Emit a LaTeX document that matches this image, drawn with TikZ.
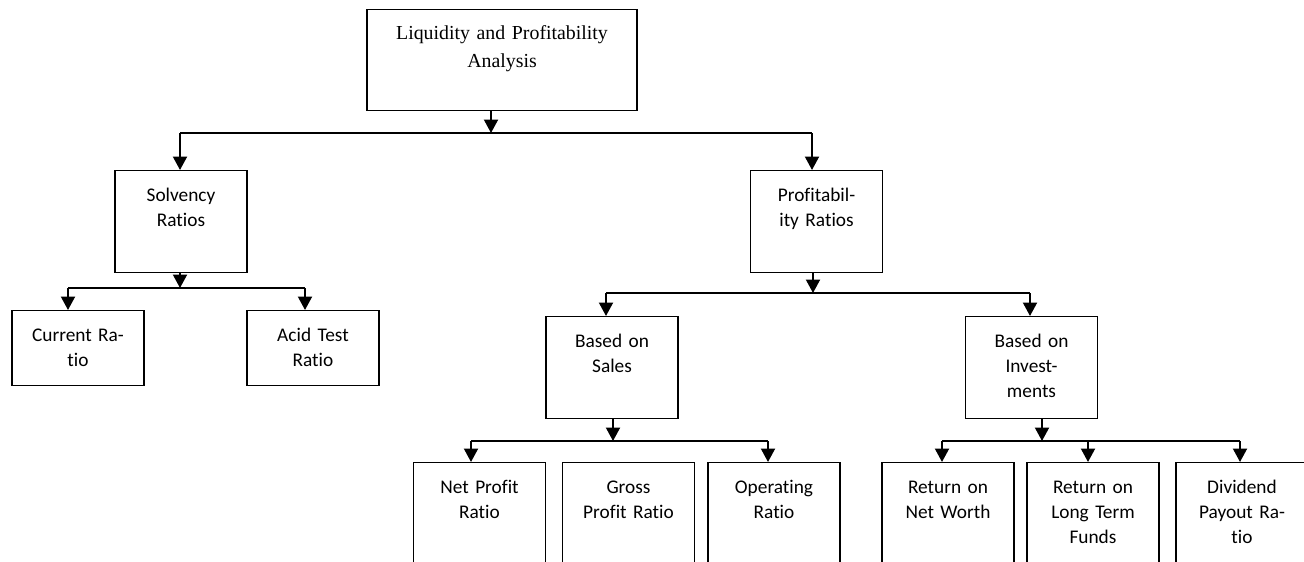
\documentclass[tikz,border=0pt]{standalone}
\usepackage{fontspec}
\setmainfont[RawFeature={-liga}]{Carlito}
\newfontfamily\headfont{Liberation Serif}
\usetikzlibrary{arrows.meta}

\begin{document}
\begin{tikzpicture}[x=0.02cm,y=-0.02cm,
	box/.style={draw,line width=0.7pt,inner sep=0,anchor=north,align=center,
		text width=2.64cm,text height=0.61cm,text depth=1.43cm,
		font=\fontsize{11}{14.2}\selectfont},
	lowbox/.style={box,text depth=0.89cm},
	endbox/.style={box,text depth=2.4cm},
	bus/.style={line width=1.2pt},
	arr/.style={bus,-{Triangle[length=0.27cm,width=0.28cm]}}]
	\clip (0,0) rectangle (1304,561);
	% boxes
	\node[box,text width=5.4cm,text height=0.6cm,text depth=1.42cm,
		font=\headfont\fontsize{11.3}{16}\selectfont] (top) at (502,9) {Liquidity and Profitability\\Analysis};
	\node[box] (solv) at (181,170) {Solvency\\Ratios};
	\node[box] (prof) at (816.5,170) {Profitabil-\\ity Ratios};
	\node[lowbox] (cur) at (78,310) {Current Ra-\\tio};
	\node[lowbox] (acid) at (313,310) {Acid Test\\Ratio};
	\node[box] (sales) at (612,316) {Based on\\Sales};
	\node[box] (inv) at (1031.5,316) {Based on\\Invest-\\ments};
	\node[endbox] (net) at (479.5,462) {Net Profit\\Ratio};
	\node[endbox] (gross) at (628.5,462) {Gross\\Profit Ratio};
	\node[endbox] (oper) at (774,462) {Operating\\Ratio};
	\node[endbox] (rnw) at (948,462) {Return on\\Net Worth};
	\node[endbox] (rltf) at (1093,462) {Return on\\Long Term\\Funds};
	\node[endbox] (div) at (1242,462) {Dividend\\Payout Ra-\\tio};
	% bus points
	\coordinate (b1) at (491,133);
	\coordinate (b1w) at (180,133);
	\coordinate (b1e) at (812,133);
	\coordinate (b2) at (180,288);
	\coordinate (b2w) at (68,288);
	\coordinate (b2e) at (305,288);
	\coordinate (b3) at (813,293);
	\coordinate (b3w) at (606,293);
	\coordinate (b3e) at (1030,293);
	\coordinate (b4) at (613,441);
	\coordinate (b4w) at (471,441);
	\coordinate (b4e) at (768,441);
	\coordinate (b5) at (1042,441);
	\coordinate (b5w) at (942,441);
	\coordinate (b5m) at (1088,441);
	\coordinate (b5e) at (1240,441);
	% first level
	\draw[arr] (top.south -| b1) -- (b1);
	\draw[bus] (b1w) -- (b1e);
	\draw[arr] (b1w) -- (solv.north -| b1w);
	\draw[arr] (b1e) -- (prof.north -| b1e);
	% solvency
	\draw[arr] (solv.south -| b2) -- (b2);
	\draw[bus] (b2w) -- (b2e);
	\draw[arr] (b2w) -- (cur.north -| b2w);
	\draw[arr] (b2e) -- (acid.north -| b2e);
	% profitability
	\draw[arr] (prof.south -| b3) -- (b3);
	\draw[bus] (b3w) -- (b3e);
	\draw[arr] (b3w) -- (sales.north -| b3w);
	\draw[arr] (b3e) -- (inv.north -| b3e);
	% sales
	\draw[arr] (sales.south -| b4) -- (b4);
	\draw[bus] (b4w) -- (b4e);
	\draw[arr] (b4w) -- (net.north -| b4w);
	\draw[arr] (b4e) -- (oper.north -| b4e);
	% investments
	\draw[arr] (inv.south -| b5) -- (b5);
	\draw[bus] (b5w) -- (b5e);
	\draw[arr] (b5w) -- (rnw.north -| b5w);
	\draw[arr] (b5m) -- (rltf.north -| b5m);
	\draw[arr] (b5e) -- (div.north -| b5e);
\end{tikzpicture}
\end{document}
